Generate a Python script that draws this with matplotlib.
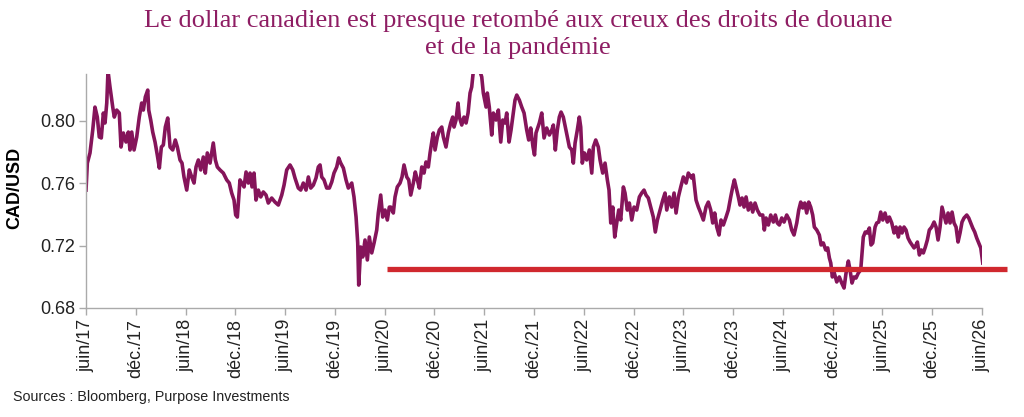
import matplotlib
matplotlib.use("Agg")
import matplotlib.pyplot as plt

# months elapsed since June 2017, CAD/USD
months = [
    0.00, 0.16, 0.48, 0.81, 1.08, 1.36, 1.60, 1.84, 2.09, 2.29, 2.50, 2.65, 2.89, 3.22, 3.41, 3.70,
    4.01, 4.22, 4.50, 4.82, 5.10, 5.30, 5.51, 5.79, 6.11, 6.42, 6.71, 6.91, 7.15, 7.44, 7.56, 7.80,
    8.04, 8.32, 8.59, 8.84, 9.08, 9.32, 9.56, 9.85, 10.13, 10.45, 10.76, 11.01, 11.33, 11.57, 11.81,
    12.14, 12.45, 12.74, 13.02, 13.26, 13.54, 13.83, 14.14, 14.38, 14.62, 14.95, 15.34, 15.59, 15.83,
    16.15, 16.55, 16.96, 17.27, 17.56, 17.84, 18.04, 18.24, 18.56, 18.77, 19.05, 19.29, 19.56, 19.77,
    20.01, 20.25, 20.49, 20.77, 21.06, 21.37, 21.70, 21.97, 22.38, 22.78, 23.18, 23.38, 23.59, 23.87,
    24.19, 24.59, 24.92, 25.19, 25.59, 25.88, 26.19, 26.52, 26.80, 27.09, 27.40, 27.72, 28.00, 28.21,
    28.41, 28.69, 29.01, 29.33, 29.62, 29.89, 30.22, 30.46, 30.70, 31.02, 31.34, 31.62, 32.03, 32.30,
    32.55, 32.75, 32.87, 33.11, 33.35, 33.63, 33.91, 34.15, 34.44, 34.72, 35.04, 35.23, 35.52, 35.76,
    36.04, 36.32, 36.56, 36.73, 37.04, 37.25, 37.52, 37.85, 38.09, 38.33, 38.66, 38.90, 39.14, 39.45,
    39.69, 39.94, 40.18, 40.47, 40.74, 40.98, 41.26, 41.47, 41.71, 41.86, 42.07, 42.35, 42.59, 42.88,
    43.07, 43.39, 43.67, 43.96, 44.20, 44.36, 44.60, 44.84, 45.00, 45.29, 45.56, 45.81, 46.05, 46.29,
    46.49, 46.69, 47.10, 47.41, 47.70, 47.89, 48.22, 48.37, 48.61, 48.90, 49.10, 49.42, 49.70, 49.99,
    50.23, 50.51, 50.71, 50.99, 51.23, 51.51, 51.71, 51.92, 52.23, 52.52, 52.80, 53.12, 53.36, 53.60,
    53.88, 54.06, 54.24, 54.64, 54.93, 55.21, 55.53, 55.85, 56.14, 56.33, 56.57, 56.81, 57.05, 57.26,
    57.53, 57.78, 58.02, 58.26, 58.55, 58.74, 58.95, 59.22, 59.46, 59.63, 59.82, 60.07, 60.35, 60.67,
    60.96, 61.15, 61.44, 61.75, 61.96, 62.28, 62.56, 62.84, 63.04, 63.25, 63.49, 63.73, 63.97, 64.21,
    64.45, 64.77, 64.97, 65.25, 65.49, 65.78, 66.06, 66.38, 66.70, 66.98, 67.26, 67.50, 67.78, 68.07,
    68.38, 68.62, 68.87, 69.19, 69.52, 69.79, 70.00, 70.31, 70.60, 70.88, 71.12, 71.40, 71.69, 72.00,
    72.33, 72.60, 72.99, 73.19, 73.53, 73.81, 74.10, 74.41, 74.73, 75.01, 75.30, 75.54, 75.78, 76.03,
    76.30, 76.54, 76.82, 77.15, 77.42, 77.71, 77.95, 78.15, 78.35, 78.63, 78.83, 79.08, 79.32, 79.56,
    79.83, 80.12, 80.36, 80.64, 80.92, 81.24, 81.57, 81.76, 81.97, 82.25, 82.53, 82.85, 83.09, 83.33,
    83.57, 83.86, 84.14, 84.46, 84.78, 85.06, 85.34, 85.67, 85.91, 86.15, 86.39, 86.63, 86.87, 87.11,
    87.35, 87.59, 87.79, 88.08, 88.39, 88.60, 88.87, 89.16, 89.40, 89.60, 89.77, 89.96, 90.16, 90.49,
    90.80, 91.09, 91.37, 91.61, 91.89, 92.09, 92.33, 92.57, 92.81, 93.09, 93.38, 93.54, 93.69, 93.93,
    94.18, 94.42, 94.62, 94.83, 95.11, 95.31, 95.55, 95.79, 96.04, 96.31, 96.59, 96.83, 97.12, 97.40,
    97.64, 97.92, 98.12, 98.36, 98.60, 98.84, 99.08, 99.33, 99.57, 99.81, 100.05, 100.21, 100.45,
    100.69, 100.93, 101.17, 101.41, 101.65, 101.94, 102.22, 102.46, 102.70, 102.94, 103.18, 103.42,
    103.66, 103.91, 104.15, 104.39, 104.63, 104.87, 105.11, 105.35, 105.59, 105.83, 106.16, 106.40,
    106.64, 106.88, 107.12, 107.36, 107.60, 107.85, 108.09,
]
cad_usd = [
    0.7556, 0.7729, 0.7794, 0.7941, 0.8088, 0.8024, 0.7896, 0.7890, 0.8050, 0.7986, 0.8114, 0.8320,
    0.8217, 0.8088, 0.8024, 0.8069, 0.8050, 0.7832, 0.7922, 0.7864, 0.7928, 0.7813, 0.7928, 0.7813,
    0.7896, 0.8024, 0.8114, 0.8069, 0.8153, 0.8197, 0.8069, 0.8005, 0.7928, 0.7864, 0.7781, 0.7697,
    0.7832, 0.7845, 0.7960, 0.8018, 0.7832, 0.7813, 0.7877, 0.7832, 0.7749, 0.7729, 0.7640, 0.7556,
    0.7685, 0.7640, 0.7601, 0.7704, 0.7749, 0.7685, 0.7768, 0.7665, 0.7794, 0.7729, 0.7858, 0.7749,
    0.7704, 0.7685, 0.7665, 0.7621, 0.7601, 0.7537, 0.7492, 0.7396, 0.7383, 0.7621, 0.7601, 0.7576,
    0.7672, 0.7601, 0.7665, 0.7576, 0.7665, 0.7492, 0.7556, 0.7512, 0.7544, 0.7524, 0.7473, 0.7505,
    0.7479, 0.7460, 0.7492, 0.7524, 0.7588, 0.7685, 0.7717, 0.7685, 0.7633, 0.7569, 0.7556, 0.7601,
    0.7556, 0.7640, 0.7569, 0.7588, 0.7633, 0.7704, 0.7717, 0.7640, 0.7621, 0.7569, 0.7569, 0.7608,
    0.7665, 0.7704, 0.7762, 0.7729, 0.7697, 0.7621, 0.7569, 0.7601, 0.7512, 0.7383, 0.7217, 0.6947,
    0.7191, 0.7127, 0.7236, 0.7108, 0.7255, 0.7153, 0.7217, 0.7300, 0.7409, 0.7524, 0.7383, 0.7428,
    0.7364, 0.7447, 0.7447, 0.7409, 0.7512, 0.7576, 0.7601, 0.7640, 0.7717, 0.7640, 0.7621, 0.7524,
    0.7601, 0.7672, 0.7621, 0.7569, 0.7704, 0.7665, 0.7736, 0.7704, 0.7794, 0.7877, 0.7922, 0.7813,
    0.7896, 0.7941, 0.7960, 0.7896, 0.7832, 0.7922, 0.7986, 0.8024, 0.7960, 0.8005, 0.8114, 0.8024,
    0.7973, 0.8024, 0.7986, 0.8050, 0.8178, 0.8217, 0.8320, 0.8340, 0.8330, 0.8281, 0.8178, 0.8088,
    0.8178, 0.8088, 0.7909, 0.8050, 0.8005, 0.8069, 0.7864, 0.8005, 0.7986, 0.8050, 0.7864, 0.7941,
    0.8050, 0.8133, 0.8165, 0.8133, 0.8088, 0.8050, 0.7941, 0.7877, 0.7954, 0.7832, 0.7781, 0.7922,
    0.7986, 0.8050, 0.7890, 0.7954, 0.7909, 0.7941, 0.7973, 0.7813, 0.7941, 0.8024, 0.8056, 0.8024,
    0.7960, 0.7896, 0.7832, 0.7813, 0.7729, 0.7858, 0.7941, 0.8024, 0.7960, 0.7729, 0.7794, 0.7749,
    0.7813, 0.7665, 0.7832, 0.7877, 0.7832, 0.7749, 0.7665, 0.7729, 0.7621, 0.7556, 0.7345, 0.7447,
    0.7255, 0.7345, 0.7428, 0.7364, 0.7576, 0.7537, 0.7428, 0.7473, 0.7364, 0.7447, 0.7428, 0.7512,
    0.7537, 0.7556, 0.7524, 0.7505, 0.7447, 0.7383, 0.7287, 0.7364, 0.7428, 0.7492, 0.7537, 0.7428,
    0.7512, 0.7447, 0.7537, 0.7409, 0.7512, 0.7576, 0.7640, 0.7601, 0.7665, 0.7633, 0.7653, 0.7492,
    0.7447, 0.7409, 0.7364, 0.7447, 0.7479, 0.7428, 0.7345, 0.7409, 0.7319, 0.7268, 0.7364, 0.7332,
    0.7383, 0.7428, 0.7512, 0.7576, 0.7621, 0.7576, 0.7512, 0.7460, 0.7505, 0.7447, 0.7512, 0.7428,
    0.7473, 0.7415, 0.7473, 0.7428, 0.7396, 0.7396, 0.7300, 0.7377, 0.7332, 0.7396, 0.7351, 0.7396,
    0.7345, 0.7332, 0.7377, 0.7351, 0.7396, 0.7364, 0.7300, 0.7268, 0.7345, 0.7428, 0.7479, 0.7441,
    0.7473, 0.7409, 0.7479, 0.7447, 0.7396, 0.7319, 0.7300, 0.7268, 0.7204, 0.7217, 0.7172, 0.7185,
    0.7121, 0.7088, 0.6999, 0.7031, 0.6967, 0.6999, 0.6960, 0.6928, 0.7024, 0.7101, 0.7044, 0.6960,
    0.6999, 0.6992, 0.7024, 0.7044, 0.7153, 0.7255, 0.7287, 0.7281, 0.7313, 0.7204, 0.7217, 0.7319,
    0.7345, 0.7351, 0.7415, 0.7364, 0.7409, 0.7351, 0.7383, 0.7345, 0.7281, 0.7319, 0.7255, 0.7319,
    0.7281, 0.7319, 0.7300, 0.7249, 0.7223, 0.7204, 0.7185, 0.7204, 0.7223, 0.7140, 0.7172, 0.7153,
    0.7191, 0.7236, 0.7300, 0.7319, 0.7351, 0.7319, 0.7236, 0.7319, 0.7447, 0.7396, 0.7345, 0.7409,
    0.7345, 0.7415, 0.7345, 0.7319, 0.7223, 0.7281, 0.7351, 0.7377, 0.7396, 0.7377, 0.7345, 0.7313,
    0.7287, 0.7249, 0.7217, 0.7185, 0.7088,
]

# red reference line: level and span (months)
floor_level = 0.705
floor_span = [36.3, 111.0]

tick_months = list(range(0, 109, 6))
tick_labels = ["juin/17", "déc./17", "juin/18", "déc./18", "juin/19", "déc./19", "juin/20",
               "déc./20", "juin/21", "déc./21", "juin/22", "déc./22", "juin/23", "déc./23",
               "juin/24", "déc./24", "juin/25", "déc./25", "juin/26"]
y_ticks = [0.68, 0.72, 0.76, 0.80]

plt.rcParams["font.family"] = ["Liberation Sans", "DejaVu Sans"]

fig = plt.figure(figsize=(10.24, 4.17), dpi=100)
ax = fig.add_axes([0.084, 0.2614, 0.875, 0.5611])

ax.plot(months, cad_usd, color="#85145a", lw=2.6, solid_joinstyle="round")
ax.plot(floor_span, [floor_level, floor_level], color="#d0282e", lw=3.8,
        solid_capstyle="butt", clip_on=False, zorder=3)

ax.set_xlim(0, 108)
ax.set_ylim(0.68, 0.83)
ax.set_xticks(tick_months)
ax.set_xticklabels(tick_labels, rotation=90, fontsize=13, color="#222222")
ax.set_yticks(y_ticks)
ax.set_yticklabels([f"{v:.2f}" for v in y_ticks], fontsize=13, color="#222222")
ax.tick_params(axis="x", length=5, width=1, color="#aaaaaa", pad=3)
ax.tick_params(axis="y", length=5, width=1, color="#aaaaaa", pad=3)
for side in ["top", "right"]:
    ax.spines[side].set_visible(False)
for side in ["left", "bottom"]:
    ax.spines[side].set_color("#aaaaaa")
    ax.spines[side].set_linewidth(1)

fig.text(0.0146, 0.55, "CAD/USD", rotation=90, fontsize=13, fontweight="bold",
         ha="center", va="center")

fig.text(0.506, 0.977, "Le dollar canadien est presque retombé aux creux des droits de douane\net de la pandémie",
         family=["Liberation Serif", "DejaVu Serif"], fontsize=19, color="#8e1d63",
         ha="center", va="top", linespacing=1.3)

fig.text(0.0127, 0.048, "Sources : Bloomberg, Purpose Investments", fontsize=10.3,
         color="#222222", ha="left", va="center")

fig.savefig("out.png", dpi=100)
